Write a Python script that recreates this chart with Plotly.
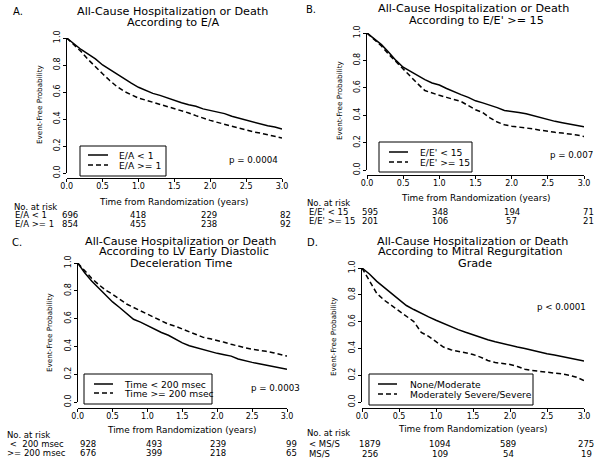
import plotly.graph_objects as go

W, H = 601, 461

# --- data ---
time = [0, 0.1, 0.2, 0.3, 0.4, 0.5, 0.6, 0.7, 0.8, 0.9, 1.0, 1.1, 1.2, 1.3, 1.4, 1.5,
        1.6, 1.7, 1.8, 1.9, 2.0, 2.1, 2.2, 2.3, 2.4, 2.5, 2.6, 2.7, 2.8, 2.9, 3.0]

ea_lt1 = [1.00, 0.955, 0.915, 0.88, 0.845, 0.80, 0.765, 0.73, 0.70, 0.665, 0.635, 0.61, 0.59, 0.575, 0.555, 0.54,
          0.52, 0.505, 0.495, 0.475, 0.465, 0.455, 0.44, 0.42, 0.405, 0.39, 0.375, 0.36, 0.35, 0.34, 0.325]
ea_ge1 = [1.00, 0.95, 0.90, 0.84, 0.785, 0.735, 0.685, 0.64, 0.605, 0.58, 0.555, 0.54, 0.525, 0.51, 0.495, 0.48,
          0.46, 0.445, 0.425, 0.405, 0.39, 0.375, 0.36, 0.345, 0.33, 0.315, 0.305, 0.295, 0.285, 0.275, 0.26]

ee_lt15 = [1.00, 0.96, 0.915, 0.86, 0.80, 0.75, 0.72, 0.685, 0.66, 0.635, 0.62, 0.595, 0.57, 0.55, 0.53, 0.505,
           0.49, 0.475, 0.455, 0.435, 0.43, 0.42, 0.41, 0.395, 0.38, 0.37, 0.355, 0.345, 0.335, 0.325, 0.315]
ee_ge15 = [1.00, 0.955, 0.905, 0.845, 0.79, 0.735, 0.68, 0.63, 0.58, 0.56, 0.545, 0.53, 0.515, 0.50, 0.47, 0.44,
           0.42, 0.38, 0.35, 0.33, 0.32, 0.315, 0.305, 0.30, 0.29, 0.28, 0.275, 0.27, 0.265, 0.255, 0.245]

dt_lt200 = [1.00, 0.93, 0.87, 0.82, 0.77, 0.72, 0.68, 0.64, 0.595, 0.575, 0.55, 0.52, 0.50, 0.48, 0.45, 0.425,
            0.405, 0.39, 0.375, 0.36, 0.35, 0.34, 0.33, 0.31, 0.295, 0.285, 0.275, 0.265, 0.255, 0.245, 0.235]
dt_ge200 = [1.00, 0.945, 0.89, 0.845, 0.805, 0.775, 0.74, 0.705, 0.68, 0.655, 0.63, 0.61, 0.585, 0.56, 0.545, 0.525,
            0.505, 0.485, 0.465, 0.455, 0.445, 0.43, 0.415, 0.40, 0.39, 0.38, 0.375, 0.365, 0.355, 0.345, 0.33]

mr_none = [1.00, 0.955, 0.90, 0.855, 0.81, 0.765, 0.72, 0.69, 0.66, 0.635, 0.61, 0.585, 0.565, 0.54, 0.52, 0.50,
           0.48, 0.465, 0.45, 0.435, 0.42, 0.41, 0.40, 0.385, 0.37, 0.36, 0.35, 0.34, 0.33, 0.32, 0.305]
mr_sev = [1.00, 0.90, 0.81, 0.76, 0.72, 0.68, 0.64, 0.60, 0.52, 0.49, 0.45, 0.41, 0.39, 0.38, 0.37, 0.355,
          0.335, 0.31, 0.295, 0.29, 0.28, 0.265, 0.245, 0.235, 0.23, 0.225, 0.22, 0.21, 0.20, 0.185, 0.16]

risk_times = [0, 1, 2, 3]
risk_ea = [[696, 418, 229, 82], [854, 455, 238, 92]]
risk_ee = [[595, 348, 194, 71], [201, 106, 57, 21]]
risk_dt = [[928, 493, 239, 99], [676, 399, 218, 65]]
risk_mr = [[1879, 1094, 589, 275], [256, 109, 54, 19]]

panels = [
    dict(letter="A.", title=["All-Cause Hospitalization or Death", "According to E/A"],
         series=[ea_lt1, ea_ge1], names=["E/A < 1", "E/A >= 1"],
         risk=risk_ea, risk_labels=["E/A < 1", "E/A >= 1"], p="p = 0.0004"),
    dict(letter="B.", title=["All-Cause Hospitalization or Death", "According to E/E' >= 15"],
         series=[ee_lt15, ee_ge15], names=["E/E' < 15", "E/E' >= 15"],
         risk=risk_ee, risk_labels=["E/E' < 15", "E/E' >= 15"], p="p = 0.007"),
    dict(letter="C.", title=["All-Cause Hospitalization or Death", "According to LV Early Diastolic",
                             "Deceleration Time"],
         series=[dt_lt200, dt_ge200], names=["Time < 200 msec", "Time >= 200 msec"],
         risk=risk_dt, risk_labels=[" <  200 msec", ">= 200 msec"], p="p = 0.0003"),
    dict(letter="D.", title=["All-Cause Hospitalization or Death", "According to Mitral Regurgitation", "Grade"],
         series=[mr_none, mr_sev], names=["None/Moderate", "Moderately Severe/Severe"],
         risk=risk_mr, risk_labels=["< MS/S", "MS/S"], p="p < 0.0001"),
]

# --- pixel layout of each panel ---
geo = [
    dict(x0=66.7, x3=282, y1=38, y0=173, xline=178, ylab=(40, 105), letter=(11, 12),
         tcx=[172, 173], ty=[11, 22], p=(227, 160), box=(80, 166, 146, 176), key=(88, 108, 155, 165), txt=117,
         xlab=202, nar=(12, 207), rows=(215, 224), rlx=13, shift=[3, 0, -1, 3]),
    dict(x0=367, x3=584, y1=33, y0=170, xline=175, ylab=(339, 101), letter=(304, 10),
         tcx=[473, 476], ty=[9, 20], p=(548, 155), box=(379, 472, 142, 172), key=(389, 408, 152, 162), txt=418,
         xlab=198, nar=(305, 203), rows=(212, 221), rlx=307, shift=[3, 1, 0, 4]),
    dict(x0=77.7, x3=287, y1=263, y0=402, xline=408, ylab=(49, 333), letter=(10, 242),
         tcx=[180, 184, 181], ty=[241, 252, 263], p=(249, 388), box=(84, 212, 374, 404), key=(94, 113, 384, 393),
         txt=122, xlab=430, nar=(5, 435), rows=(444, 453), rlx=5, shift=[10, 7, 1, 4]),
    dict(x0=362, x3=584, y1=268, y0=402, xline=408, ylab=(333, 336), letter=(305, 242),
         tcx=[472, 470, 475], ty=[241, 252, 263], p=(535, 307), box=(369, 533, 374, 405), key=(378, 397, 384, 394),
         txt=408, xlab=429, nar=(305, 433), rows=(444, 454), rlx=307, shift=[8, 4, -2, 2]),
]

FONT = "DejaVu Sans, Liberation Sans, Arial, sans-serif"


def fx(x):
    return x / W


def fy(y):
    return 1 - y / H


fig = go.Figure()
annotations = []
shapes = []

for i, (pn, g) in enumerate(zip(panels, geo)):
    k = "" if i == 0 else str(i + 1)
    xa, ya = "x" + k, "y" + k
    for s, name, dash in zip(pn["series"], pn["names"], ["solid", "5px,3px"]):
        fig.add_trace(go.Scatter(x=time, y=s, name=name, mode="lines", xaxis=xa, yaxis=ya,
                                 line=dict(color="black", width=1.5, dash=dash), showlegend=False))
    fig.update_layout(**{
        "xaxis" + k: dict(domain=[fx(g["x0"]), fx(g["x3"])], range=[0, 3], anchor="free", position=fy(g["xline"]),
                          showline=True, linecolor="black", linewidth=1, ticks="outside", ticklen=3,
                          tickcolor="black", tickvals=[0, 0.5, 1, 1.5, 2, 2.5, 3], tickformat=".1f",
                          ticklabelstandoff=-3, showgrid=False, zeroline=False, automargin=False,
                          tickfont=dict(size=8, color="black")),
        "yaxis" + k: dict(domain=[fy(g["y0"]), fy(g["y1"])], range=[0, 1], anchor=xa,
                          showline=True, linecolor="black", linewidth=1, ticks="outside", ticklen=3,
                          tickcolor="black", tickvals=[0, 0.2, 0.4, 0.6, 0.8, 1.0], tickformat=".1f",
                          tickangle=-90, showgrid=False, zeroline=False, automargin=False,
                          tickfont=dict(size=8, color="black")),
    })

    def note(text, x, y, size=8.5, xanchor="left", **kw):
        annotations.append(dict(text=text, x=fx(x), y=fy(y), xref="paper", yref="paper", showarrow=False,
                                xanchor=xanchor, yanchor="middle", font=dict(size=size, color="black"), **kw))

    note(pn["letter"], g["letter"][0], g["letter"][1], size=10)
    for line, cx, ty in zip(pn["title"], g["tcx"], g["ty"]):
        note(line, cx, ty, size=11.2, xanchor="center")
    note("Event-Free Probability", g["ylab"][0], g["ylab"][1], size=7.2, xanchor="center", textangle=-90)
    note("Time from Randomization (years)", (g["x0"] + g["x3"]) / 2, g["xlab"], size=8.9, xanchor="center")
    note(pn["p"], g["p"][0], g["p"][1], size=8.7)
    note("No. at risk", g["nar"][0], g["nar"][1])

    # at-risk table
    for row, label, ry in zip(pn["risk"], pn["risk_labels"], g["rows"]):
        note(label, g["rlx"], ry)
        for t, n, sh in zip(risk_times, row, g["shift"]):
            annotations.append(dict(text=str(n), x=t, y=fy(ry), xref=xa, yref="paper", showarrow=False,
                                    xanchor="center", yanchor="middle", xshift=sh,
                                    font=dict(size=8.5, color="black")))

    # legend box
    bx0, bx1, by0, by1 = g["box"]
    shapes.append(dict(type="rect", xref="paper", yref="paper", x0=fx(bx0), x1=fx(bx1), y0=fy(by1), y1=fy(by0),
                       line=dict(color="black", width=1)))
    kx0, kx1, ky1, ky2 = g["key"]
    for ky, dash, name in zip([ky1, ky2], ["solid", "5px,3px"], pn["names"]):
        shapes.append(dict(type="line", xref="paper", yref="paper", x0=fx(kx0), x1=fx(kx1), y0=fy(ky), y1=fy(ky),
                           line=dict(color="black", width=1.5, dash=dash)))
        note(name, g["txt"], ky, size=9.2)

fig.update_layout(width=W, height=H, margin=dict(l=0, r=0, t=0, b=0), plot_bgcolor="white",
                  paper_bgcolor="white", font=dict(family=FONT, color="black"),
                  annotations=annotations, shapes=shapes)

# page margin off so the 601x461 figure fills the window exactly
fig.write_html("out.html", config={"displayModeBar": False},
               post_script="document.body.style.margin='0px';")
